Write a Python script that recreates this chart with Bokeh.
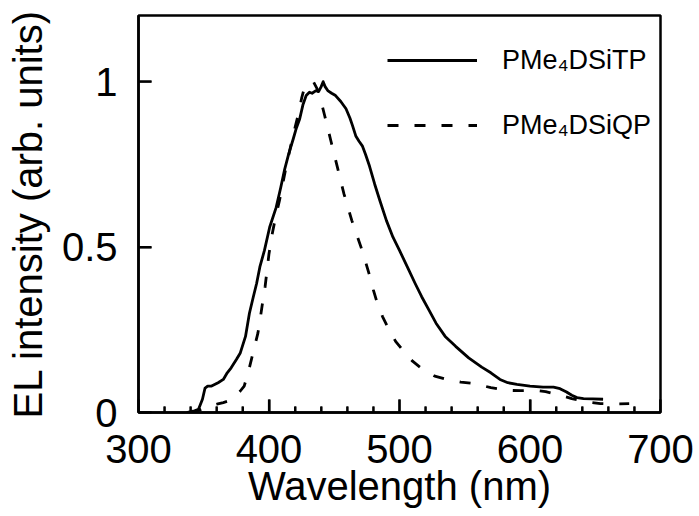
from bokeh.plotting import figure
from bokeh.models import FixedTicker, Legend, LegendItem, CustomJSTickFormatter
from bokeh.embed import file_html
from bokeh.resources import INLINE

# ---- data ----
tp_wavelength = [337, 340, 343, 346, 349, 351, 353, 356, 361, 365, 368, 371, 375, 378,
                 382, 385, 388, 390.5, 393, 396.5, 400.5, 405.5, 409, 412, 415, 418.5,
                 421, 423.5, 426, 428.5, 431, 433, 436, 438, 440, 441.5, 443, 445, 448,
                 451, 455, 459, 462, 464, 466.5, 469, 471.5, 474, 477, 481, 485, 490,
                 495, 500, 506, 512, 517, 522.5, 528, 535, 543, 553, 563, 570, 577, 583,
                 590, 600, 610, 618, 623, 628, 632, 636, 641, 648, 656]
tp_intensity = [0.0, 0.003, 0.005, 0.01, 0.04, 0.074, 0.08, 0.08, 0.09, 0.10, 0.12, 0.135,
                0.16, 0.18, 0.23, 0.30, 0.35, 0.39, 0.44, 0.49, 0.56, 0.62, 0.68, 0.735,
                0.78, 0.826, 0.86, 0.887, 0.93, 0.958, 0.968, 0.965, 0.973, 0.97, 0.985,
                1.0, 0.985, 0.973, 0.965, 0.958, 0.94, 0.918, 0.89, 0.867, 0.836, 0.82,
                0.806, 0.78, 0.745, 0.69, 0.64, 0.58, 0.53, 0.49, 0.44, 0.39, 0.35, 0.31,
                0.27, 0.23, 0.20, 0.165, 0.137, 0.12, 0.10, 0.09, 0.085, 0.08, 0.077,
                0.077, 0.072, 0.062, 0.052, 0.045, 0.042, 0.041, 0.040]

qp_wavelength = [340, 345, 350, 354, 360, 365, 369, 374, 378, 381, 384, 386.5, 389, 391.5,
                 393.5, 395, 397, 398.5, 400, 402.5, 405, 408, 410.5, 413, 415.5, 418,
                 420.5, 423, 425, 427, 430, 434, 438, 442.5, 445, 447.5, 450, 452.5, 455,
                 457.5, 460.5, 463.5, 467, 470.5, 474, 477, 480, 483, 487, 492, 497, 503,
                 510, 518, 527, 536, 547, 558, 570, 582, 593, 604, 612, 618, 625, 632,
                 642, 654, 665, 676]
qp_intensity = [0.0, 0.005, 0.012, 0.018, 0.025, 0.03, 0.035, 0.05, 0.065, 0.08, 0.12,
                0.16, 0.20, 0.24, 0.29, 0.33, 0.38, 0.43, 0.48, 0.54, 0.59, 0.64, 0.69,
                0.74, 0.785, 0.83, 0.87, 0.91, 0.95, 0.98, 0.995, 1.0, 0.97, 0.90, 0.86,
                0.82, 0.78, 0.74, 0.70, 0.66, 0.62, 0.58, 0.54, 0.50, 0.455, 0.415, 0.37,
                0.33, 0.29, 0.25, 0.215, 0.186, 0.155, 0.13, 0.11, 0.10, 0.092, 0.087,
                0.075, 0.067, 0.066, 0.067, 0.063, 0.057, 0.05, 0.042, 0.033, 0.027,
                0.026, 0.027]

series_names = ["PMe\u2084DSiTP", "PMe\u2084DSiQP"]

x_major_ticks = [300, 400, 500, 600, 700]
x_minor_ticks = [320, 340, 360, 380, 420, 440, 460, 480, 520, 540, 560, 580,
                 620, 640, 660, 680]
y_major_ticks = [0, 0.5, 1]

FONT = "Liberation Sans"
X_MIN, X_MAX = 300, 700
Y_MIN, Y_MAX = 0, 1.2
W, H = 699, 516
B_LEFT, B_RIGHT, B_TOP, B_BOTTOM = 138, 39, 15, 104
FRAME_W = W - B_LEFT - B_RIGHT
FRAME_H = H - B_TOP - B_BOTTOM
MAJ_PX, MIN_PX = 13, 6
maj_dy = MAJ_PX * (Y_MAX - Y_MIN) / FRAME_H
min_dy = MIN_PX * (Y_MAX - Y_MIN) / FRAME_H
maj_dx = MAJ_PX * (X_MAX - X_MIN) / FRAME_W

p = figure(width=W, height=H, x_range=(X_MIN, X_MAX), y_range=(Y_MIN, Y_MAX),
           output_backend="svg", toolbar_location=None,
           min_border_left=B_LEFT, min_border_right=B_RIGHT, min_border_top=B_TOP,
           min_border_bottom=B_BOTTOM)

p.background_fill_color = "white"
p.border_fill_color = "white"
p.xgrid.visible = False
p.ygrid.visible = False
p.outline_line_color = "black"
p.outline_line_width = 2.5
p.outline_line_alpha = 1.0

r_tp = p.line(tp_wavelength, tp_intensity, line_color="black", line_width=2.8,
              line_join="round")
r_qp = p.line(qp_wavelength, qp_intensity, line_color="black", line_width=2.8,
              line_dash="11 16", line_join="round")

# inward tick marks as a multi-line glyph built from the tick arrays
tick_xs = ([[t, t] for t in x_major_ticks] + [[t, t] for t in x_minor_ticks]
           + [[X_MIN, X_MIN + maj_dx] for _ in y_major_ticks])
tick_ys = ([[Y_MIN, Y_MIN + maj_dy] for _ in x_major_ticks]
           + [[Y_MIN, Y_MIN + min_dy] for _ in x_minor_ticks]
           + [[t, t] for t in y_major_ticks])
p.multi_line(tick_xs, tick_ys, line_color="black", line_width=2.2)

# axes
for ax in (p.xaxis[0], p.yaxis[0]):
    ax.axis_line_color = "black"
    ax.axis_line_width = 2.5
    ax.major_tick_line_color = "black"
    ax.major_tick_line_width = 2.2
    ax.minor_tick_line_color = "black"
    ax.minor_tick_line_width = 1.8
    ax.major_tick_out = 0
    ax.minor_tick_out = 0
    ax.major_label_text_font = FONT
    ax.major_label_text_font_size = "40px"
    ax.major_label_text_color = "black"
    ax.axis_label_text_font = FONT
    ax.axis_label_text_font_size = "40px"
    ax.axis_label_text_font_style = "normal"
    ax.axis_label_text_color = "black"

xa = p.xaxis[0]
xa.ticker = FixedTicker(ticks=x_major_ticks, minor_ticks=x_minor_ticks)
xa.major_tick_in = MAJ_PX
xa.minor_tick_in = MIN_PX
xa.major_label_standoff = 22
xa.axis_label = "Wavelength (nm)"
xa.axis_label_standoff = -2

ya = p.yaxis[0]
ya.ticker = FixedTicker(ticks=y_major_ticks, minor_ticks=[])
ya.formatter = CustomJSTickFormatter(code="return String(tick);")
ya.major_tick_in = MAJ_PX
ya.minor_tick_in = 0
ya.major_label_standoff = 21
ya.axis_label = "EL intensity (arb. units)"
ya.axis_label_standoff = 9

legend = Legend(items=[LegendItem(label=series_names[0], renderers=[r_tp]),
                       LegendItem(label=series_names[1], renderers=[r_qp])],
                location=(249, 267), orientation="vertical",
                glyph_width=90, glyph_height=40, label_height=40,
                label_standoff=25, spacing=25, padding=0, margin=0,
                border_line_color=None, background_fill_alpha=0,
                label_text_font=FONT, label_text_font_size="27px",
                label_text_color="black")
p.add_layout(legend)

open("out.html", "w").write(file_html(p, INLINE))
